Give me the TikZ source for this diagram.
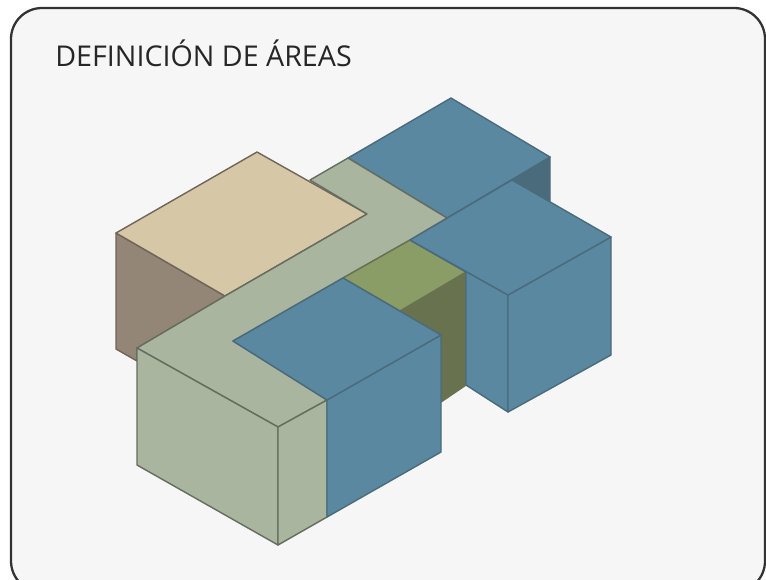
\documentclass[tikz,border=0pt]{standalone}
\usepackage{fontspec}
\setmainfont{Open Sans}
\usepackage{xcolor}
\definecolor{cardfill}{HTML}{F6F6F6}
\definecolor{cardline}{HTML}{333333}
\definecolor{arena}{HTML}{D6C7A6}
\definecolor{tierra}{HTML}{948677}
\definecolor{salvia}{HTML}{A9B59F}
\definecolor{azul}{HTML}{5A88A0}
\definecolor{azulosc}{HTML}{4A6B7C}
\definecolor{oliva}{HTML}{8B9D67}
\definecolor{olivaosc}{HTML}{69724F}
\tikzset{
	cara/.style={draw=#1, line width=0.8pt, line join=round},
}

\begin{document}
\begin{tikzpicture}[x=0.02cm, y=-0.02cm]
	\clip (0,0) rectangle (766,579);
	\draw [cardline, fill=cardfill, line width=1.3pt, rounded corners=0.62cm] (11,8) rectangle (765,592);
	\node [anchor=west, text=black!85, font=\fontsize{16.3}{18}\selectfont, inner sep=0pt] (titulo) at(55,53.5) {DEFINICIÓN DE ÁREAS};
	% volumen de la izquierda
	\draw [cara=tierra!75!black, fill=tierra] (116,233) -- (225,296) -- (137,348) -- (137,361) -- (116,349) -- cycle;
	\draw [cara=tierra!75!black, fill=arena] (257,152) -- (116,233) -- (225,296) -- (367,214) -- cycle;
	% volumen de atras
	\draw [cara=azulosc, fill=azulosc] (550,157) -- (550,203) -- (512,180) -- cycle;
	\draw [cara=azulosc, fill=azul] (451,98) -- (348,158) -- (447,218) -- (550,157) -- cycle;
	% circulacion
	\draw [cara=salvia!60!black, fill=salvia] (348,158) -- (310,180) -- (367,214) -- (225,296) -- (137,348) -- (278,427) -- (327,400) -- (233,341) -- (343,278) -- (410,240) -- (447,218) -- cycle;
	\draw [cara=salvia!60!black, fill=salvia] (137,348) -- (278,427) -- (278,545) -- (137,465) -- cycle;
	\draw [cara=salvia!60!black, fill=salvia] (278,427) -- (327,400) -- (327,517) -- (278,545) -- cycle;
	% patio
	\draw [cara=olivaosc, fill=olivaosc] (400,311) -- (466,272) -- (466,385) -- (441,402) -- (441,335) -- cycle;
	\draw [cara=olivaosc, fill=oliva] (410,240) -- (343,278) -- (400,311) -- (466,272) -- cycle;
	% volumen de la derecha
	\draw [cara=azulosc, fill=azul] (410,240) -- (466,272) -- (466,385) -- (508,412) -- (508,295) -- cycle;
	\draw [cara=azulosc, fill=azul] (508,295) -- (611,237) -- (611,355) -- (508,412) -- cycle;
	\draw [cara=azulosc, fill=azul] (512,180) -- (611,237) -- (508,295) -- (410,240) -- cycle;
	% volumen del frente
	\draw [cara=azulosc, fill=azul] (327,400) -- (441,335) -- (441,452) -- (327,517) -- cycle;
	\draw [cara=azulosc, fill=azul] (233,341) -- (343,278) -- (441,335) -- (327,400) -- cycle;
\end{tikzpicture}
\end{document}
